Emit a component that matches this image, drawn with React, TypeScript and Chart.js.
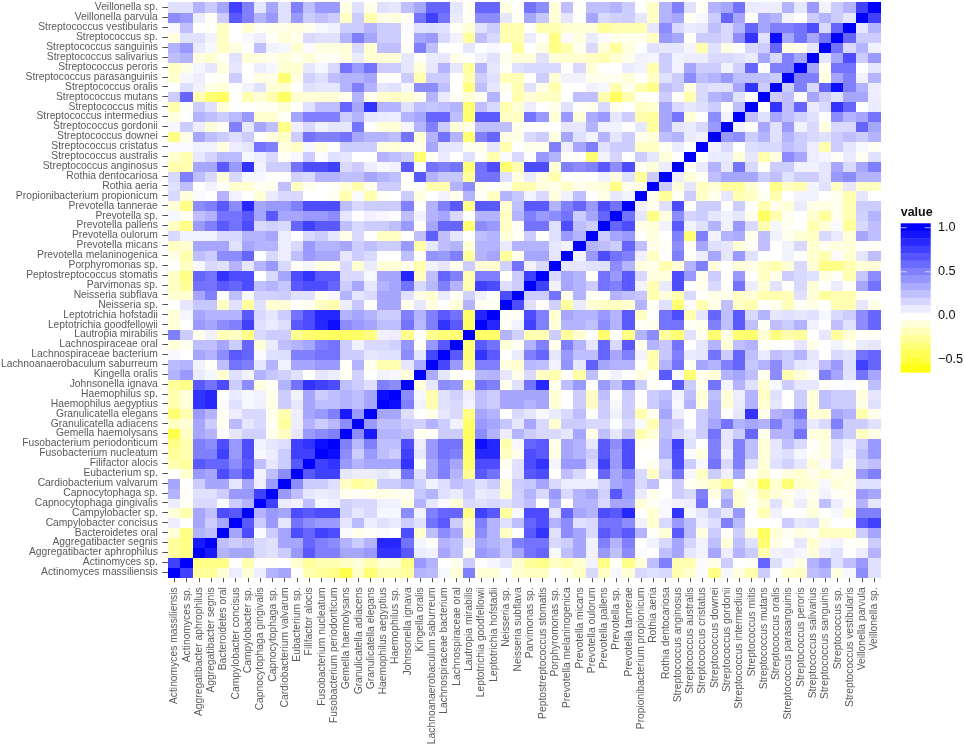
import React, { useEffect, useRef } from "react";
import { Chart, registerables } from "chart.js";

Chart.register(...registerables);

const taxa = [
  "Actinomyces massiliensis", "Actinomyces sp.", "Aggregatibacter aphrophilus", "Aggregatibacter segnis",
  "Bacteroidetes oral", "Campylobacter concisus", "Campylobacter sp.", "Capnocytophaga gingivalis",
  "Capnocytophaga sp.", "Cardiobacterium valvarum", "Eubacterium sp.", "Filifactor alocis",
  "Fusobacterium nucleatum", "Fusobacterium periodonticum", "Gemella haemolysans", "Granulicatella adiacens",
  "Granulicatella elegans", "Haemophilus aegyptius", "Haemophilus sp.", "Johnsonella ignava", "Kingella oralis",
  "Lachnoanaerobaculum saburreum", "Lachnospiraceae bacterium", "Lachnospiraceae oral", "Lautropia mirabilis",
  "Leptotrichia goodfellowii", "Leptotrichia hofstadii", "Neisseria sp.", "Neisseria subflava", "Parvimonas sp.",
  "Peptostreptococcus stomatis", "Porphyromonas sp.", "Prevotella melaninogenica", "Prevotella micans",
  "Prevotella oulorum", "Prevotella pallens", "Prevotella sp.", "Prevotella tannerae", "Propionibacterium propionicum",
  "Rothia aeria", "Rothia dentocariosa", "Streptococcus anginosus", "Streptococcus australis", "Streptococcus cristatus",
  "Streptococcus downei", "Streptococcus gordonii", "Streptococcus intermedius", "Streptococcus mitis",
  "Streptococcus mutans", "Streptococcus oralis", "Streptococcus parasanguinis", "Streptococcus peroris",
  "Streptococcus salivarius", "Streptococcus sanguinis", "Streptococcus sp.", "Streptococcus vestibularis",
  "Veillonella parvula", "Veillonella sp.",
];

// Lower triangle of the symmetric correlation matrix, one row per taxon.
const correlationRows: number[][] = [
  [1],
  [.75,1],
  [-.25,-.3,1],
  [-.25,-.3,.9,1],
  [-.1,-.3,.3,.25,1],
  [.07,0,.35,.2,.35,1],
  [-.1,-.2,.35,.25,.7,.65,1],
  [.07,-.02,.15,.15,.02,.2,.3,1],
  [.3,-.02,.12,.12,.2,.4,.4,.75,1],
  [.35,0,.2,.35,.35,.1,.35,.07,.4,1],
  [0,-.12,.4,.35,.7,.55,.7,.05,.25,.45,1],
  [-.2,-.25,.65,.6,.6,.45,.65,.25,.1,.2,.65,1],
  [-.25,-.2,.5,.5,.75,.4,.7,.03,.07,.2,.75,.75,1],
  [-.3,-.2,.5,.45,.7,.4,.7,.05,.1,.13,.75,.8,.95,1],
  [-.45,-.15,.35,.3,.02,.1,.18,.18,-.05,-.15,.1,.4,.45,.5,1],
  [-.15,-.1,.35,.2,-.05,.27,.1,.15,-.02,-.25,.07,.3,.2,.28,.45,1],
  [-.35,-.2,.4,.3,-.02,.07,.15,.15,-.05,-.2,.07,.35,.4,.5,.9,.4,1],
  [-.2,-.1,.8,.85,.02,.12,.03,.06,-.07,.2,.1,.35,.25,.25,.3,.25,.35,1],
  [-.2,-.1,.8,.85,0,.08,.03,.05,-.05,.2,.05,.35,.2,.25,.3,.25,.35,.95,1],
  [-.25,-.3,.65,.55,.7,.2,.45,-.08,-.03,.3,.55,.8,.75,.7,.25,.2,.13,.5,.45,1],
  [.3,.4,.08,.04,-.12,.12,.05,.3,.22,.18,.12,-.01,.1,.07,-.04,.18,0,.05,.03,-.1,1],
  [.27,.3,.05,-.02,.25,.55,.5,.1,.3,.05,.35,.35,.4,.4,-.02,.3,-.05,-.2,-.2,.1,.33,1],
  [.03,0,.35,.3,.45,.65,.6,.02,.12,.13,.5,.5,.55,.55,.2,.2,.1,.12,.12,.45,.1,.72,1],
  [-.1,-.04,.25,.25,.35,.2,.6,-.1,.08,.25,.3,.35,.5,.55,.2,.05,.15,.15,.18,.42,-.02,.4,.65,1],
  [.5,.2,-.05,.05,-.18,-.15,-.3,.15,.2,.2,-.28,-.36,-.38,-.4,-.4,-.38,-.32,.05,.07,-.28,0,-.28,-.34,-.34,1],
  [-.1,0,.4,.35,.45,.5,.75,.12,.08,.13,.65,.7,.85,.95,.45,.4,.35,.25,.25,.55,.28,.5,.8,.65,-.38,1],
  [-.1,.04,.35,.3,.3,.3,.65,.15,.1,.2,.55,.7,.85,.85,.3,.35,.3,.2,.2,.5,.3,.5,.65,.55,-.38,.85,1],
  [-.01,.1,.22,.22,-.15,.12,-.25,.12,-.12,-.1,0,-.04,-.15,-.2,.07,.22,0,.35,.35,-.05,.1,-.08,0,-.1,.3,-.03,-.03,1],
  [-.12,-.12,.35,.5,0,.25,.03,.18,.18,.2,.12,.12,-.05,.03,.3,.1,.15,.35,.35,.12,-.06,-.12,.08,-.03,.18,.05,-.02,.7,1],
  [-.15,-.25,.55,.55,.65,.6,.7,.25,.3,.22,.65,.7,.7,.6,.2,.35,.1,.3,.35,.55,.15,.28,.5,.3,-.2,.75,.7,.13,.2,1],
  [-.15,-.3,.6,.55,.8,.7,.7,0,.15,.35,.7,.8,.65,.65,.15,.15,.03,.35,.35,.85,-.15,.25,.6,.5,-.2,.5,.5,0,.2,.75,1],
  [0,-.15,.03,.15,.12,.3,.1,.3,.4,.15,0,.04,-.08,-.06,.15,-.12,.08,-.1,-.1,-.05,-.2,.05,.1,-.05,.2,-.1,-.12,.18,.55,.05,.15,1],
  [-.06,-.2,.25,.2,.45,.45,.6,0,.15,.07,.25,.4,.35,.35,.1,.2,.15,0,0,.25,0,.42,.4,.5,-.25,.3,.35,-.25,-.05,.35,.35,.1,1],
  [-.15,-.12,.35,.35,.35,.12,.35,.3,.3,.07,.15,.4,.3,.3,.35,.2,.25,.2,.2,.4,-.22,.1,.25,.3,-.12,.3,.3,.08,.3,.3,.3,.1,.05,1],
  [.15,.05,.05,.05,.15,.15,.3,.3,.35,.07,0,.15,.2,.1,-.06,.15,0,-.15,-.15,0,.25,.62,.25,.1,0,.25,.3,-.1,-.03,.2,-.02,.12,.4,.3,1],
  [-.15,-.3,.4,.5,.65,.55,.7,.15,.18,.15,.6,.75,.65,.65,.25,.15,.2,.2,.25,.4,-.02,.35,.6,.6,-.36,.45,.4,-.15,0,.55,.55,.12,.7,.25,.2,1],
  [.03,-.03,.25,.3,.55,.55,.65,.35,.65,.35,.35,.4,.4,.45,.1,0,.05,.03,0,.25,.05,.3,.35,.15,0,.3,.3,-.15,.3,.5,.4,.45,.55,.2,.35,.6,1],
  [-.1,-.3,.45,.5,.65,.45,.85,.35,.4,.4,.5,.7,.7,.7,.25,.15,.2,.2,.2,.5,0,.3,.5,.65,-.3,.65,.65,-.12,.25,.65,.65,.3,.5,.6,.4,.7,.55,1],
  [.15,-.1,.02,0,.3,.05,0,-.1,.08,.15,.15,0,0,-.04,-.2,.02,-.2,-.02,0,.2,-.08,0,.05,-.05,.3,-.02,-.15,.3,.22,.05,.15,-.08,.06,.25,0,-.06,.1,.05,1],
  [.12,.25,0,.05,-.01,-.12,-.12,-.03,-.05,.25,-.15,-.04,0,-.02,-.1,-.2,-.05,.2,.2,-.02,-.02,-.2,-.2,.3,.45,-.05,0,-.03,-.2,-.2,-.08,-.05,-.15,-.05,-.08,-.1,-.3,-.05,-.05,1],
  [.15,.5,.25,.15,-.1,.15,.03,.03,-.01,0,.18,.15,.3,.3,.25,.25,.35,.3,.25,0,.65,.3,.22,.22,-.25,.55,.55,.12,-.08,.08,-.08,-.2,0,-.02,0,.05,-.08,.12,-.25,.2,1],
  [-.2,-.2,.35,.35,.65,.4,.8,.05,.2,.2,.55,.7,.7,.75,.15,.2,.07,.03,.05,.65,.02,.55,.5,.55,-.35,.55,.7,-.35,-.2,.7,.7,-.1,.5,.45,.5,.65,.45,.7,-.03,-.1,.07,1],
  [-.12,-.2,.1,.17,.27,.27,.03,.07,.15,-.03,.03,.2,.02,.12,.1,0,0,.3,.25,.2,-.35,-.03,.08,0,.12,-.02,-.2,.02,.15,0,.4,.3,-.02,-.02,-.35,.05,.17,0,.2,.1,-.1,0,1],
  [.02,.02,.05,.05,-.08,.07,.1,.55,.5,-.08,-.15,.03,-.08,0,.2,.2,.2,-.08,-.1,-.05,-.05,.35,.1,.1,-.05,-.05,.1,-.2,0,-.05,-.05,.5,.07,.35,.5,.12,.2,.2,-.15,-.15,-.03,.08,-.01,1],
  [-.3,-.06,.35,.25,.2,.13,.2,0,-.08,-.15,.2,.55,.5,.5,.55,.35,.3,.3,.25,.55,-.1,.3,.55,.3,-.36,.5,.6,-.06,-.06,.15,.2,-.08,.35,.12,.05,.3,.1,.2,-.05,-.1,.25,.3,.08,.06,1],
  [.03,.2,.07,-.1,-.02,.5,.1,.35,.25,-.3,.06,.15,.06,.1,.1,.55,0,-.1,-.1,.04,.3,.5,.2,-.1,-.06,.25,.25,.25,-.05,0,0,0,.1,.1,.3,.05,.05,0,.1,-.25,.35,.1,.08,.15,.4,1],
  [-.08,0,.3,.25,.2,.27,.4,-.12,-.12,-.02,.35,.5,.5,.5,.2,.3,.1,.08,.07,.3,.35,.6,.6,.25,-.36,.65,.65,-.15,-.15,.55,.4,-.1,.4,-.1,.33,.4,.1,.2,-.2,-.25,.35,.55,-.1,0,.45,.05,1],
  [-.2,-.02,.2,.12,-.1,-.01,-.01,-.03,-.04,-.1,-.02,.12,.25,.25,.6,.35,.8,.3,.3,.12,.25,.22,.25,.3,-.36,.25,.15,-.2,-.1,.07,0,-.06,.12,-.02,-.05,.15,-.05,0,-.15,-.12,.35,.15,.1,.13,.2,0,.25,1],
  [.2,.6,-.2,-.35,-.4,0,-.2,-.1,-.2,-.4,-.12,-.1,-.1,-.1,-.05,.3,-.05,-.12,-.15,-.12,-.05,.3,.08,-.03,-.1,-.03,.3,0,-.2,-.1,-.15,-.15,0,.25,.25,-.2,-.4,-.2,-.03,0,.2,-.02,-.2,.15,.3,.35,.12,0,1],
  [0,.13,.05,-.07,-.1,0,.05,.12,-.1,-.12,-.01,.12,.1,.1,.3,.5,.3,.1,.12,.03,.45,.45,.25,0,-.32,.25,.1,-.05,-.2,.12,-.06,-.2,0,0,.05,.03,-.2,-.05,-.2,-.3,.25,.2,-.08,.15,.12,.12,.35,.8,.2,1],
  [-.12,.03,.07,-.01,-.03,.2,0,-.08,-.06,-.35,-.08,.18,.13,.25,.3,.3,.35,-.01,0,.2,-.2,.2,.2,0,-.2,.2,.12,-.18,-.18,0,.2,-.1,.05,.05,-.05,-.04,-.04,-.1,0,-.15,.12,.2,.45,.25,.3,.4,.25,.25,.25,.2,1],
  [-.15,-.07,.04,.1,-.08,.1,0,.07,.03,-.12,-.12,.1,.04,.15,.55,.4,.55,.2,.2,.1,-.1,.1,.3,.1,-.25,.3,.1,-.02,.12,.15,.15,.15,0,.15,-.1,0,0,.08,.05,-.2,.2,.05,.35,.2,.2,.05,.18,.6,.02,.5,.5,1],
  [.25,.3,-.08,-.12,-.03,.12,-.1,-.08,-.05,-.1,-.05,-.1,-.03,-.02,-.08,.08,-.1,-.1,-.1,.1,-.02,.08,.1,-.06,0,.05,.12,-.06,-.1,-.1,.12,-.1,-.12,-.12,-.15,-.2,-.12,-.06,.05,.04,.2,.05,.07,.07,.15,.15,.12,.08,.35,.15,.5,.35,1],
  [.3,.4,.08,.03,-.15,-.08,0,.25,.05,.03,-.12,.02,-.08,-.08,-.1,.15,-.12,.25,.25,-.02,.5,.25,0,0,.1,0,.03,0,-.25,0,-.08,-.3,-.2,-.04,.15,-.1,-.25,-.08,0,.12,.1,.1,.04,-.2,.12,-.08,0,.15,.2,.6,-.08,-.05,.1,1],
  [-.08,.12,.12,.05,-.15,0,.03,.07,-.02,-.1,-.05,.15,.12,.12,.3,.5,.35,.2,.2,0,.35,.4,.15,.05,-.25,.25,.15,-.2,-.2,.08,-.02,-.3,.02,-.08,.08,.02,-.05,-.05,-.05,-.15,.4,.35,-.02,.2,.2,.15,.45,.8,.12,.95,.35,.55,.35,.55,1],
  [.03,.25,0,-.02,-.15,0,-.12,-.03,-.05,-.06,-.08,-.05,.03,.06,.2,.2,.3,.2,.2,.02,.12,.13,.12,-.03,-.1,.12,.2,-.2,-.2,-.02,-.2,-.2,-.12,-.1,-.1,-.25,-.2,-.2,-.2,.1,.45,.15,.08,.1,.25,.15,.3,.6,.35,.5,.5,.55,.7,.15,.6,1],
  [.45,.4,.07,-.02,.2,.65,.5,.3,.4,.12,.4,.2,.25,.2,-.15,.2,-.2,-.06,-.08,-.02,.55,.75,.55,.08,-.02,.45,.45,.1,-.03,.35,.22,-.1,.1,0,.35,.15,.18,.2,.1,-.15,.3,.35,-.03,.03,.2,.6,.35,0,.35,.3,.05,0,.2,.3,.2,.1,1],
  [.12,.12,.3,.2,.35,.75,.5,.1,.35,.12,.5,.25,.4,.4,-.07,.12,-.05,.12,.1,.25,.35,.6,.6,.1,-.03,.6,.6,-.07,0,.55,.45,-.1,.25,-.02,.25,.25,.3,.2,0,-.15,.3,.5,.12,-.03,.3,.35,.55,.08,.07,.07,.3,.1,.4,.05,.2,.3,.75,1],
];

const legendTitle = "value";
const legendTicks = [1, 0.5, 0, -0.5];
const legendLabels = ["1.0", "0.5", "0.0", "\u22120.5"];
const legendMax = 1.05;
const legendMin = -0.64;
const legendBins = 20;

function fill(v: number): string {
  if (v >= 0) {
    const c = Math.round(255 * (1 - Math.min(v, 1)));
    return `rgb(${c},${c},255)`;
  }
  const b = Math.round(255 * (1 - Math.min(-v / 0.64, 1)));
  return `rgb(255,255,${b})`;
}

const cellCache = new Map<string, HTMLCanvasElement>();
function cellImage(v: number): HTMLCanvasElement {
  const color = fill(v);
  let c = cellCache.get(color);
  if (!c) {
    c = document.createElement("canvas");
    c.width = 13;
    c.height = 11;
    const g = c.getContext("2d")!;
    g.fillStyle = color;
    g.fillRect(0, 0, 13, 11);
    cellCache.set(color, c);
  }
  return c;
}

function cells() {
  const out: { x: string; y: string; v: number }[] = [];
  correlationRows.forEach((row, i) => {
    row.forEach((v, j) => {
      out.push({ x: taxa[j], y: taxa[i], v });
      if (i !== j) out.push({ x: taxa[i], y: taxa[j], v });
    });
  });
  return out;
}

const colorbarPlugin = {
  id: "colorbar",
  afterDraw(chart: Chart) {
    const g = chart.ctx;
    const left = 900.7, width = 30, top = 223.3, height = 149;
    const yFor = (v: number) => top + ((legendMax - v) / (legendMax - legendMin)) * height;
    g.save();
    const step = (legendMax - legendMin) / legendBins;
    for (let i = 0; i < legendBins; i++) {
      const hi = legendMax - i * step;
      g.fillStyle = fill(hi - step / 2);
      const y0 = yFor(hi);
      g.fillRect(left, y0, width, yFor(hi - step) - y0 + 0.4);
    }
    g.strokeStyle = "rgba(255,255,255,0.85)";
    g.lineWidth = 0.8;
    g.textBaseline = "middle";
    g.textAlign = "left";
    g.font = "12.7px 'Liberation Sans'";
    legendTicks.forEach((t, i) => {
      const y = yFor(t);
      g.beginPath();
      g.moveTo(left, y); g.lineTo(left + 6, y);
      g.moveTo(left + width - 6, y); g.lineTo(left + width, y);
      g.stroke();
      g.fillStyle = "#111";
      g.fillText(legendLabels[i], 938, y);
    });
    g.font = "bold 12.5px 'Liberation Sans'";
    g.textBaseline = "alphabetic";
    g.fillStyle = "#111";
    g.fillText(legendTitle, 900.7, 216);
    g.restore();
  },
};

export default function App() {
  const ref = useRef<HTMLCanvasElement>(null);
  useEffect(() => {
    const axisFont = { family: "'Liberation Sans'", size: 10.3 };
    const chart = new Chart(ref.current!, {
      type: "scatter",
      data: {
        datasets: [
          {
            data: cells() as any,
            pointStyle: (ctx: any) => cellImage(ctx.raw ? ctx.raw.v : 0),
            pointRadius: 1,
            pointHoverRadius: 1,
            showLine: false,
          } as any,
        ],
      },
      plugins: [colorbarPlugin as any],
      options: {
        responsive: false,
        animation: false,
        events: [],
        layout: { autoPadding: false, padding: { top: 2.7, right: 83.3, left: 0, bottom: 0 } },
        plugins: { legend: { display: false }, tooltip: { enabled: false } },
        scales: {
          x: {
            type: "category",
            labels: taxa,
            offset: true,
            border: { display: false },
            grid: { drawOnChartArea: false, tickLength: 5, tickColor: "#555", tickWidth: 1 },
            ticks: {
              autoSkip: false, maxRotation: 90, minRotation: 90, padding: 5,
              color: "#5a5a5a", font: axisFont,
            },
            afterFit(s: any) {
              s.height = 167.7;
              s.paddingLeft = 0;
              s.paddingRight = 0;
            },
          },
          y: {
            type: "category",
            labels: taxa,
            reverse: true,
            offset: true,
            border: { display: false },
            grid: { drawOnChartArea: false, tickLength: 6, tickColor: "#555", tickWidth: 1 },
            ticks: { autoSkip: false, padding: 4.5, color: "#5a5a5a", font: axisFont },
            afterFit(s: any) {
              s.width = 168.3;
              s.paddingTop = 0;
              s.paddingBottom = 0;
            },
          },
        },
      } as any,
    });
    return () => chart.destroy();
  }, []);
  return (
    <div style={{ position: "absolute", left: 0, top: 0, width: 964, height: 745, background: "#fff" }}>
      <canvas ref={ref} width={964} height={745} style={{ display: "block" }} />
    </div>
  );
}
